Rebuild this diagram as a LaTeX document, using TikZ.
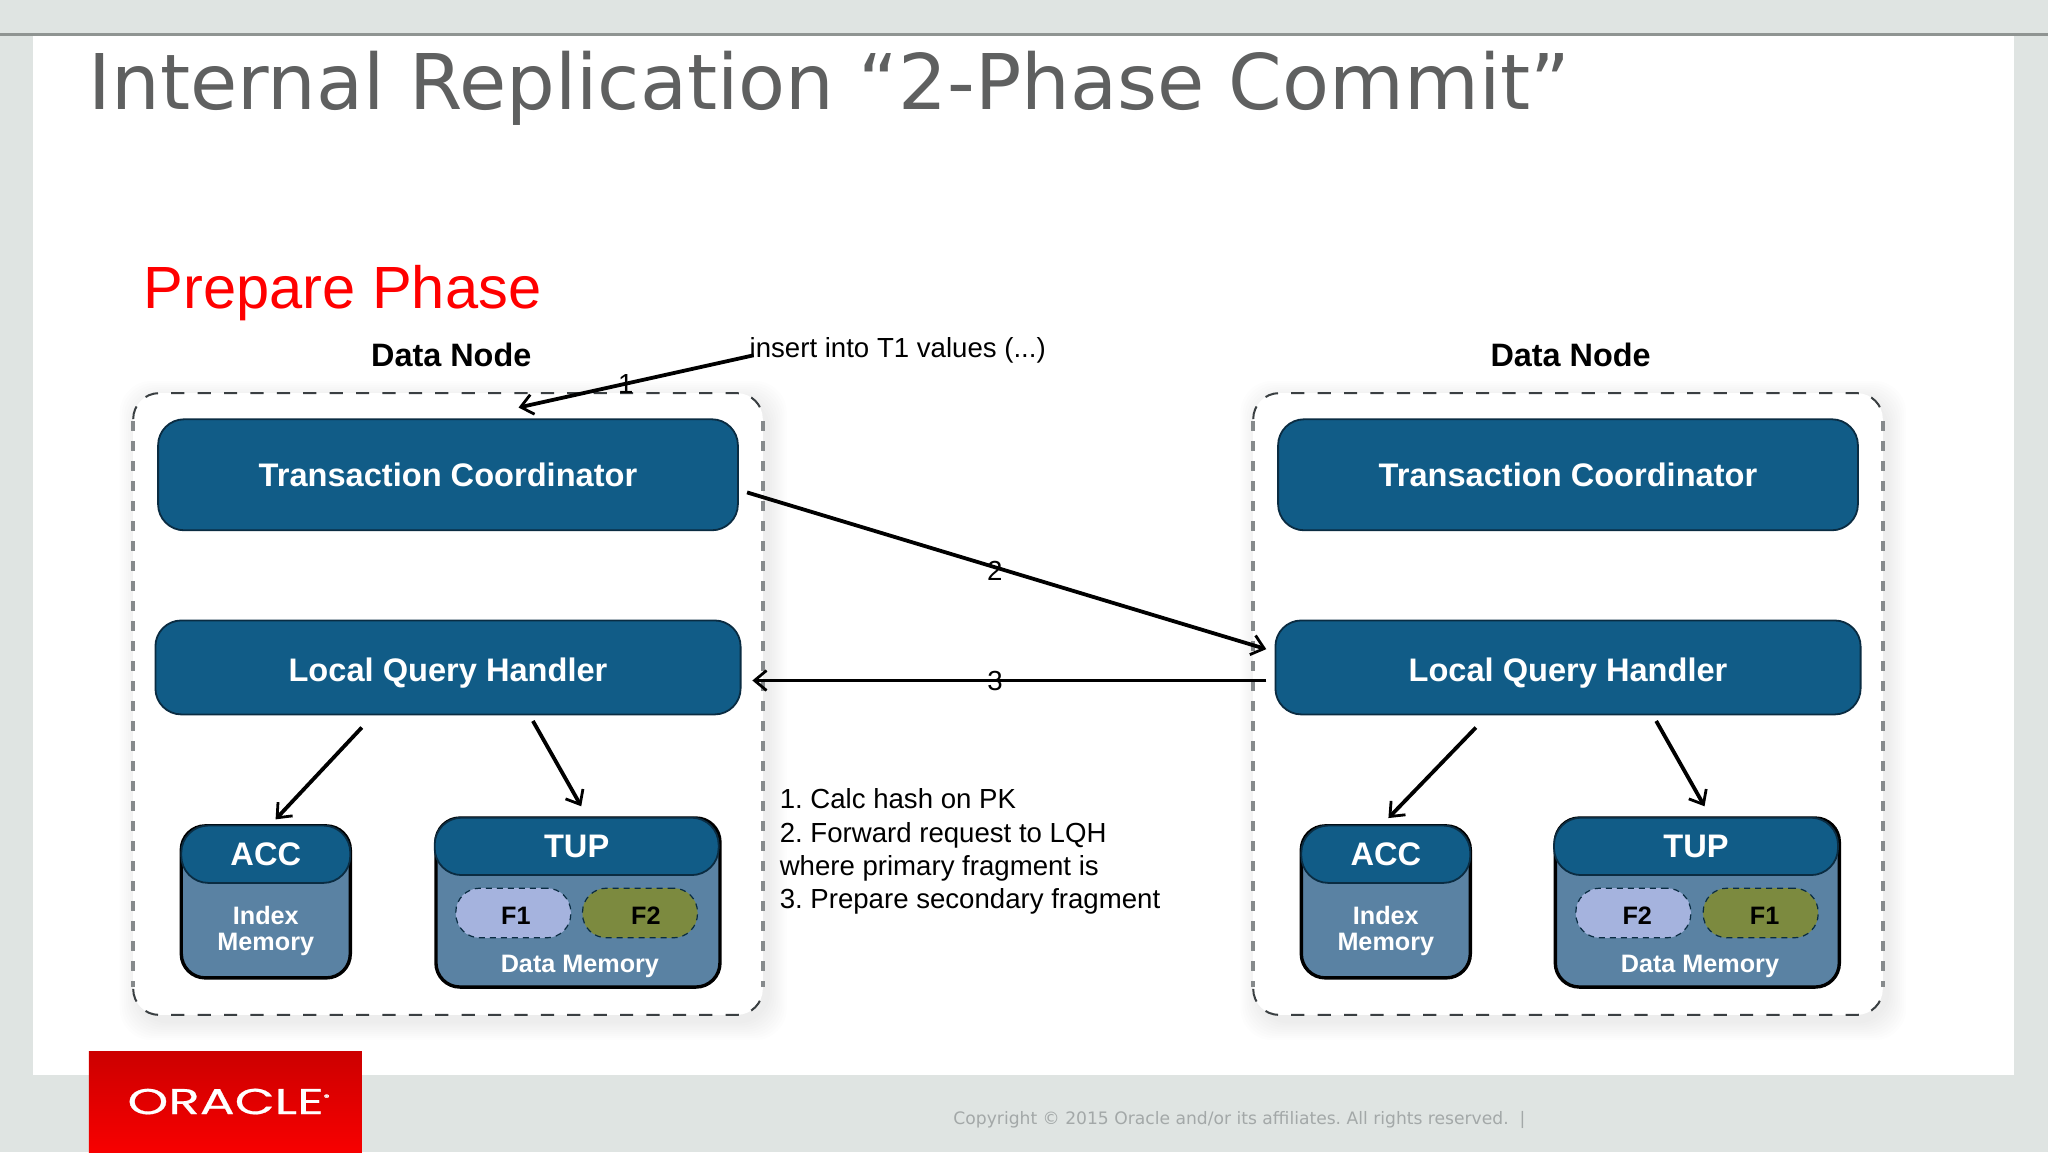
\documentclass[tikz,border=0pt]{standalone}
\usepackage{fontspec}
\usetikzlibrary{arrows.meta}
\setmainfont{Liberation Sans}
\newfontfamily\djv{DejaVu Sans}
\newfontfamily\pop{Poppins}[FakeBold=0.5]
\definecolor{bgG}{HTML}{DFE4E2}
\definecolor{barG}{HTML}{8F9492}
\definecolor{titleG}{HTML}{5F6060}
\definecolor{footG}{HTML}{A3A8A8}
\definecolor{oraBlue}{HTML}{115C87}
\definecolor{panelB}{HTML}{5A82A3}
\definecolor{edgeB}{HTML}{0A2C42}
\definecolor{fLav}{HTML}{A5B3DE}
\definecolor{fOli}{HTML}{7C8A3F}
\definecolor{dashG}{HTML}{3A3F42}
\definecolor{sideG}{HTML}{868A8C}
\tikzset{
  x=0.65306pt,y=-0.65306pt,
  every node/.style={inner sep=0pt,outer sep=0pt},
  host/.style={rectangle,rounded corners=13pt,minimum width=314.8pt,minimum height=310.9pt,fill=white},
  edgeDash/.style={draw=dashG,line width=1pt,rounded corners=13pt,dash pattern=on 6.6pt off 6.6pt},
  sideDash/.style={draw=sideG,line width=2pt,dash pattern=on 5pt off 5pt},
  lay/.style={rectangle,rounded corners=13pt,fill=oraBlue,draw=edgeB,line width=.9pt,
    text=white,font=\bfseries\fontsize{16.3}{19}\selectfont},
  tcS/.style={lay,minimum width=289.9pt,minimum height=55.5pt},
  lqS/.style={lay,minimum width=292.6pt,minimum height=47pt},
  bodyS/.style={rectangle,rounded corners=12pt,fill=panelB,draw=black,line width=1.7pt},
  headS/.style={lay,rounded corners=13.5pt,line width=.9pt},
  acS/.style={bodyS,minimum width=84.5pt,minimum height=76pt},
  tuS/.style={bodyS,minimum width=142pt,minimum height=84.5pt},
  acH/.style={headS,minimum width=84.5pt,minimum height=28.7pt},
  tuH/.style={headS,minimum width=142pt,minimum height=28.7pt},
  smallT/.style={text=white,font=\bfseries\fontsize{12.6}{13}\selectfont,align=center},
  frag/.style={rectangle,rounded corners=12pt,minimum width=57.5pt,minimum height=24.8pt,
    draw=edgeB,line width=.6pt,dash pattern=on 3pt off 2.5pt,text=black,
    font=\bfseries\fontsize{12.6}{14}\selectfont},
  hostTitle/.style={text=black,font=\bfseries\fontsize{16.2}{19}\selectfont},
  noteT/.style={text=black,font=\frenchspacing\fontsize{13.8}{16.65}\selectfont},
  flow/.style={draw=black,line width=1.9pt,-{Straight Barb[length=6pt,width=10pt,line width=1.4pt]}},
  stepT/.style={text=black,font=\fontsize{13.8}{16}\selectfont},
}
\newcommand{\softshadow}[4]{%
  \foreach \k in {1,...,9}{
    \fill[black,opacity=0.009,rounded corners=16pt]
      (#1+4-\k*1.6,#2+5-\k*1.6) rectangle (#3+4+\k*1.6,#4+5+\k*1.6);
  }}
\newcommand{\hostframe}[1]{%
  \draw[edgeDash] ([yshift=-13pt]#1.north west) -- (#1.north west) -- (#1.north east) -- ([yshift=-13pt]#1.north east);
  \draw[edgeDash] ([yshift=13pt]#1.south west) -- (#1.south west) -- (#1.south east) -- ([yshift=13pt]#1.south east);
  \draw[sideDash] ([yshift=-14pt]#1.north west) -- ([yshift=14pt]#1.south west);
  \draw[sideDash] ([yshift=-14pt]#1.north east) -- ([yshift=14pt]#1.south east);
}
\newcommand{\fl}[2]{\hspace{#1}\rule{0pt}{11.7pt}#2}
\begin{document}
\begin{tikzpicture}
\useasboundingbox (0,0) rectangle (1568,882);
\fill[bgG] (0,0) rectangle (1568,882);
\fill[white] (25,27) rectangle (1542,823);
\fill[barG] (0,25) rectangle (1568,27.5);
\shade[top color=red!80!black,bottom color=red!97!black] (68,805) rectangle (277,882);
\node[anchor=base,text=white,font=\pop\fontsize{18}{20}\selectfont] (logo) at (175,853) {\scalebox{1.44}[1]{ORACLE\raisebox{7pt}{\fontsize{4}{4}\selectfont ®}}};
\node[anchor=base west,text=titleG,font=\djv\fontsize{38.4}{46}\selectfont] (title) at (68,84) {Internal Replication “2-Phase Commit”};
\node[anchor=base west,text=red,font=\fontsize{29.8}{34}\selectfont] (phase) at (110,236) {Prepare Phase};
\node[anchor=base west,text=footG,font=\frenchspacing\djv\fontsize{8.57}{11}\selectfont] (foot) at (730,861) {Copyright © 2015 Oracle and/or its affiliates. All rights reserved.\ \ |};

\softshadow{102}{301}{584}{777}
\softshadow{960}{301}{1441}{777}
\node[host] (hostA) at (343,539) {};
\node[host] (hostB) at (1200.5,539) {};
\hostframe{hostA}
\hostframe{hostB}
\node[hostTitle] (dnA) at (345.5,272) {Data Node};
\node[hostTitle] (dnB) at (1202.5,272) {Data Node};

\node[tcS] (tcA) at (343,363.5) {Transaction Coordinator};
\node[tcS] (tcB) at (1200.5,363.5) {Transaction Coordinator};
\node[lqS] (lqA) at (343,511) {\rule{0pt}{17pt}Local Query Handler};
\node[lqS] (lqB) at (1200.5,511) {\rule{0pt}{17pt}Local Query Handler};

% left stores
\node[acS] (acA) at (203.5,690.5) {};
\node[acH] (acAh) at (203.5,654) {ACC};
\node[smallT] (idxA) at (203.5,713) {Index\\[0pt]Memory};
\node[tuS] (tuA) at (442.5,691) {};
\node[tuH] (tuAh) at (441.5,648) {TUP};
\node[frag,fill=fLav] (fA1) at (393,699) {\fl{2.6pt}{F1}};
\node[frag,fill=fOli] (fA2) at (490,699) {\fl{5.9pt}{F2}};
\node[smallT] (dmA) at (444,740) {Data Memory};

% right stores
\node[acS] (acB) at (1061,690.5) {};
\node[acH] (acBh) at (1061,654) {ACC};
\node[smallT] (idxB) at (1061,713) {Index\\[0pt]Memory};
\node[tuS] (tuB) at (1299.5,691) {};
\node[tuH] (tuBh) at (1298.5,648) {TUP};
\node[frag,fill=fLav] (fB1) at (1250.5,699) {\fl{3.9pt}{F2}};
\node[frag,fill=fOli] (fB2) at (1348,699) {\fl{3.9pt}{F1}};
\node[smallT] (dmB) at (1301.5,740) {Data Memory};

\node[anchor=west,noteT] (ins) at (574,268) {insert into T1 values (...)};
\node[anchor=west,noteT,align=left] (steps) at (597,652) {1. Calc hash on PK\\2. Forward request to LQH\\where primary fragment is\\3. Prepare secondary fragment};

\draw[flow] ([shift={(3,4)}]ins.west) -- node[stepT,pos=.544] (s1) {1} ([shift={(54,-9)}]tcA.north);
\draw[flow] ([shift={(7,13.5)}]tcA.east) -- node[stepT,pos=.477,yshift=-2pt] (s2) {2} ([shift={(-7,-14)}]lqB.west);
\draw[flow] ([shift={(-7,10)}]lqB.west) -- node[stepT,pos=.528] (s3) {3} ([shift={(9,10)}]lqA.east);
\draw[flow] ([shift={(-66,10)}]lqA.south) -- ([shift={(7.5,-5)}]acA.north);
\draw[flow] ([shift={(65,5)}]lqA.south) -- ([shift={(2.5,-9)}]tuA.north);
\draw[flow] ([shift={(-70.5,10)}]lqB.south) -- ([shift={(2,-6)}]acB.north);
\draw[flow] ([shift={(67.5,5)}]lqB.south) -- ([shift={(5.5,-9)}]tuB.north);
\end{tikzpicture}
\end{document}
